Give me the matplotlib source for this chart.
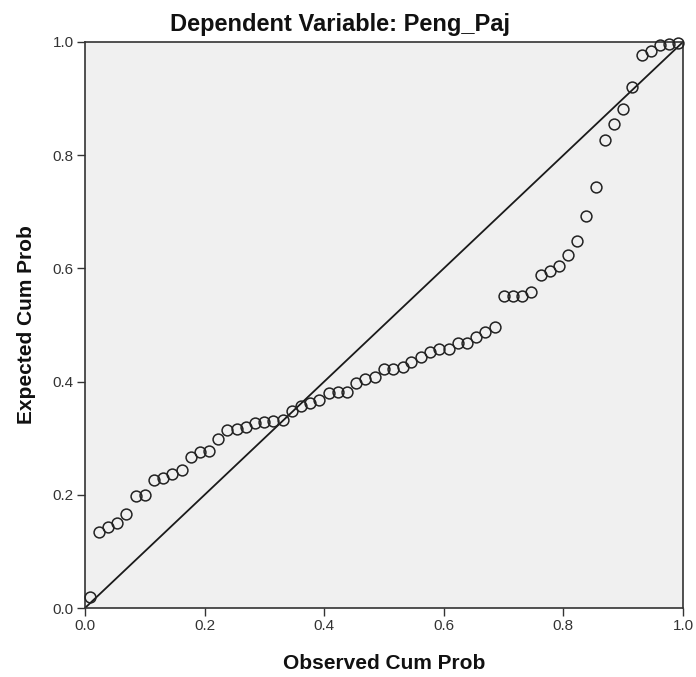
import matplotlib
matplotlib.use('Agg')
import matplotlib.pyplot as plt

plt.rcParams['font.family'] = ['Liberation Sans', 'DejaVu Sans']

# Observed vs expected cumulative probabilities
observed = [0.008, 0.023, 0.038, 0.054, 0.069, 0.085, 0.100, 0.115, 0.131, 0.146,
            0.162, 0.177, 0.192, 0.208, 0.223, 0.238, 0.254, 0.269, 0.285, 0.300,
            0.315, 0.331, 0.346, 0.362, 0.377, 0.392, 0.408, 0.423, 0.438, 0.454,
            0.469, 0.485, 0.500, 0.515, 0.531, 0.546, 0.562, 0.577, 0.592, 0.608,
            0.623, 0.638, 0.654, 0.669, 0.685, 0.700, 0.715, 0.731, 0.746, 0.762,
            0.777, 0.792, 0.808, 0.823, 0.838, 0.854, 0.869, 0.885, 0.900, 0.915,
            0.931, 0.946, 0.962, 0.977, 0.992]
expected = [0.019, 0.135, 0.144, 0.151, 0.166, 0.198, 0.200, 0.226, 0.230, 0.237,
            0.243, 0.266, 0.276, 0.278, 0.298, 0.314, 0.316, 0.319, 0.327, 0.329,
            0.330, 0.332, 0.348, 0.357, 0.362, 0.367, 0.379, 0.381, 0.382, 0.397,
            0.405, 0.409, 0.422, 0.423, 0.426, 0.434, 0.443, 0.453, 0.457, 0.458,
            0.469, 0.469, 0.479, 0.487, 0.497, 0.551, 0.552, 0.552, 0.559, 0.588,
            0.596, 0.604, 0.624, 0.649, 0.693, 0.743, 0.827, 0.855, 0.881, 0.920,
            0.977, 0.984, 0.995, 0.996, 0.998]
ticks = [0.0, 0.2, 0.4, 0.6, 0.8, 1.0]
tick_labels = ['0.0', '0.2', '0.4', '0.6', '0.8', '1.0']

fig = plt.figure(figsize=(6.96, 6.77), dpi=100)
ax = fig.add_axes([0.1221, 0.1019, 0.8592, 0.8361])
ax.set_facecolor('#f0f0f0')

# reference line
ax.plot([0, 1], [0, 1], color='#1a1a1a', lw=1.3, zorder=2)
ax.plot(observed, expected, 'o', markersize=7.8, markerfacecolor='none',
        markeredgecolor='#222222', markeredgewidth=1.1, zorder=3, clip_on=False)

ax.set_xlim(0, 1)
ax.set_ylim(0, 1)
ax.set_xticks(ticks)
ax.set_xticklabels(tick_labels)
ax.set_yticks(ticks)
ax.set_yticklabels(tick_labels)
ax.tick_params(direction='out', length=6, width=1, labelsize=11, colors='#333333', pad=2)
for sp in ax.spines.values():
    sp.set_color('#333333')
    sp.set_linewidth(1.2)

ax.set_xlabel('Observed Cum Prob', fontsize=15, fontweight='bold', labelpad=15,
              color='#111111')
ax.set_ylabel('Expected Cum Prob', fontsize=15, fontweight='bold', labelpad=12,
              color='#111111')
fig.text(0.489, 0.954, 'Dependent Variable: Peng_Paj', fontsize=17,
         fontweight='bold', ha='center', va='baseline', color='#111111')

fig.savefig('out.png', dpi=100)
